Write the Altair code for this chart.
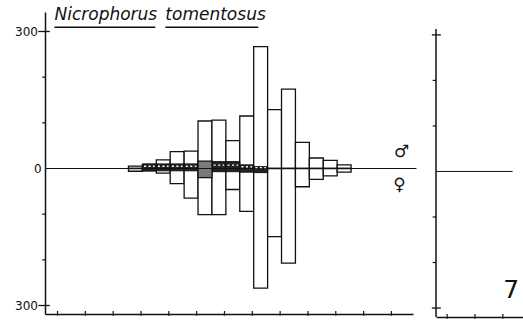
import altair as alt
import pandas as pd

# ---- data ----
bins = [6, 7, 8, 9, 10, 11, 12, 13, 14, 15, 16, 17, 18, 19, 20, 21]
male = [5, 9, 19, 37, 38, 104, 106, 61, 115, 267, 129, 174, 57, 23, 18, 8]
female = [6, 5, 10, 33, 65, 101, 101, 46, 94, 262, 149, 207, 40, 24, 16, 8]
hatch_bins = [7, 8, 9, 10, 11, 12, 13, 14, 15]
hatch_male = [10, 10, 10, 10, 16, 15, 15, 8, 4]
hatch_female = [5, 5, 5, 5, 20, 7, 7, 8, 9]
y_major = [-300, 300]
y_minor = [-200, -100, 100, 200]
x_ticks_left = [0.9, 2.9, 4.9, 6.9, 8.9, 10.9, 12.9, 14.9, 16.9, 18.9, 20.9, 22.9, 24.9]
x_ticks_right = [0.8, 2.8, 4.8]
title_words = ["Nicrophorus", "tomentosus"]
title_x = [0.68, 8.65]
title_end = [7.93, 15.33]
panel_number = "7"

FONT = "DejaVu Sans"
INK = "#111111"

# ---- left panel scales ----
XD = [0, 26.45]
YD = [-318.6, 342.7]
xs = alt.Scale(domain=XD, nice=False, zero=False)
ys = alt.Scale(domain=YD, nice=False, zero=False)

x_axis = alt.Axis(values=[0], labels=False, ticks=False, grid=False, title=None,
                  domain=True, domainColor=INK, domainWidth=1.5)
y_axis = alt.Axis(values=y_major, labelExpr="'300'", ticks=False, tickSize=0, grid=False,
                  title=None, domain=True, domainColor=INK, domainWidth=1.5,
                  labelFont=FONT, labelFontSize=12, labelColor=INK, labelPadding=7.5)


def X(f, axis=x_axis, scale=xs):
    return alt.X(f, type="quantitative", scale=scale, axis=axis)


def Y(f, axis=y_axis, scale=ys):
    return alt.Y(f, type="quantitative", scale=scale, axis=axis)


open_df = pd.DataFrame({"b": bins, "b2": [b + 1 for b in bins],
                        "m": male, "f": [-v for v in female]})
hatch_df = pd.DataFrame({"b": hatch_bins, "b2": [b + 1 for b in hatch_bins],
                         "m": hatch_male, "f": [-v for v in hatch_female]})
hatch_df["dash_y"] = hatch_df["m"] * 0.5
hatch_df["d1"] = hatch_df["b"] + 0.12
hatch_df["d2"] = hatch_df["b"] + 0.88
band_df = hatch_df[hatch_df["b"] != 11]
block_df = hatch_df[hatch_df["b"] == 11]

male_bars = alt.Chart(open_df).mark_rect(fill="white", stroke=INK, strokeWidth=1.3).encode(
    x=X("b"), x2="b2", y=Y("m"), y2=alt.datum(0))
female_bars = alt.Chart(open_df).mark_rect(fill="white", stroke=INK, strokeWidth=1.3).encode(
    x=X("b"), x2="b2", y=Y("f"), y2=alt.datum(0))

zero_df = pd.DataFrame({"x": [0], "x2": [26.7], "y": [0]})
zero_line = alt.Chart(zero_df).mark_rule(color=INK, strokeWidth=1).encode(
    x=X("x"), x2="x2", y=Y("y"))

band_up = alt.Chart(band_df).mark_rect(fill="#222222", stroke=INK, strokeWidth=1).encode(
    x=X("b"), x2="b2", y=Y("m"), y2=alt.datum(0))
band_down = alt.Chart(band_df).mark_rect(fill="#222222", stroke=INK, strokeWidth=1).encode(
    x=X("b"), x2="b2", y=Y("f"), y2=alt.datum(0))
band_dash = alt.Chart(band_df).mark_rule(color="white", strokeWidth=1.4, strokeDash=[2, 2.5]).encode(
    x=X("d1"), x2="d2", y=Y("dash_y"))
block_up = alt.Chart(block_df).mark_rect(fill="#7a7a7a", stroke=INK, strokeWidth=1.2).encode(
    x=X("b"), x2="b2", y=Y("m"), y2=alt.datum(0))
block_down = alt.Chart(block_df).mark_rect(fill="#7a7a7a", stroke=INK, strokeWidth=1.2).encode(
    x=X("b"), x2="b2", y=Y("f"), y2=alt.datum(0))

# axis ticks drawn as rules (they cross the axis lines)
maj_df = pd.DataFrame({"y": y_major, "x": [-0.48] * 2, "x2": [0.35] * 2})
maj_ticks = alt.Chart(maj_df).mark_rule(color=INK, strokeWidth=1.3).encode(
    x=X("x"), x2="x2", y=Y("y"))
min_df = pd.DataFrame({"y": y_minor, "x": [-0.2] * 4, "x2": [0] * 4})
min_ticks = alt.Chart(min_df).mark_rule(color=INK, strokeWidth=1.2).encode(
    x=X("x"), x2="x2", y=Y("y"))
xt_df = pd.DataFrame({"x": x_ticks_left, "y": [YD[0] - 3.7] * len(x_ticks_left),
                      "y2": [YD[0] + 6.6] * len(x_ticks_left)})
x_ticks = alt.Chart(xt_df).mark_rule(color=INK, strokeWidth=1.2).encode(
    x=X("x"), y=Y("y"), y2="y2")

zero_lab = alt.Chart(pd.DataFrame({"x": [-0.25], "y": [0], "t": ["0"]})).mark_text(
    align="right", baseline="middle", font=FONT, fontSize=12, color=INK).encode(
    x=X("x"), y=Y("y"), text="t:N")

title_df = pd.DataFrame({"t": title_words, "x": title_x, "x2": title_end,
                         "y": [325.2, 325.2], "u": [309.2, 309.2]})
title_text = alt.Chart(title_df).mark_text(
    align="left", baseline="alphabetic", font=FONT, fontSize=17, fontStyle="italic",
    color=INK).encode(x=X("x"), y=Y("y"), text="t:N")
title_under = alt.Chart(title_df).mark_rule(color=INK, strokeWidth=1.5).encode(
    x=X("x"), x2="x2", y=Y("u"))

sex_df = pd.DataFrame({"t": ["♂", "♀"], "x": [25.63, 25.48], "y": [37.2, -36.1]})
sex_text = alt.Chart(sex_df).mark_text(
    align="center", baseline="middle", font=FONT, fontSize=17, fontWeight="bold",
    color=INK).encode(x=X("x"), y=Y("y"), text="t:N")

left = alt.layer(
    male_bars, female_bars, zero_line, band_up, band_down, band_dash, block_up, block_down,
    maj_ticks, min_ticks, x_ticks, zero_lab, title_text, title_under, sex_text
).properties(width=368, height=302)

# ---- right panel (cut off at the page edge) ----
XD2 = [0, 6.245]
YD2 = [-319.7, 350.3]
xs2 = alt.Scale(domain=XD2, nice=False, zero=False)
ys2 = alt.Scale(domain=YD2, nice=False, zero=False)


def X2(f):
    return alt.X(f, type="quantitative", scale=xs2, axis=x_axis)


def Y2(f):
    return alt.Y(f, type="quantitative", scale=ys2, axis=None)


r_axis_line = alt.Chart(pd.DataFrame({"x": [0], "y": [YD2[0]], "y2": [313.1]})).mark_rule(
    color=INK, strokeWidth=1.5).encode(x=X2("x"), y=Y2("y"), y2="y2")
r_maj = alt.Chart(pd.DataFrame({"y": y_major, "x": [-0.3] * 2, "x2": [0.35] * 2})).mark_rule(
    color=INK, strokeWidth=1.3).encode(x=X2("x"), x2="x2", y=Y2("y"))
r_min = alt.Chart(pd.DataFrame({"y": y_minor, "x": [-0.24] * 4, "x2": [0] * 4})).mark_rule(
    color=INK, strokeWidth=1.2).encode(x=X2("x"), x2="x2", y=Y2("y"))
r_zero = alt.Chart(pd.DataFrame({"x": [0], "x2": [5.5], "y": [0]})).mark_rule(
    color=INK, strokeWidth=1).encode(x=X2("x"), x2="x2", y=Y2("y"))
r_xt = alt.Chart(pd.DataFrame({"x": x_ticks_right, "y": [YD2[0] - 3.7] * 3,
                               "y2": [YD2[0] + 6.6] * 3})).mark_rule(
    color=INK, strokeWidth=1.2).encode(x=X2("x"), y=Y2("y"), y2="y2")
r_num = alt.Chart(pd.DataFrame({"x": [5.4], "y": [-278.1], "t": [panel_number]})).mark_text(
    align="center", baseline="alphabetic", font=FONT, fontSize=25, color=INK).encode(
    x=X2("x"), y=Y2("y"), text="t:N")

right = alt.layer(r_axis_line, r_maj, r_min, r_zero, r_xt, r_num).properties(width=87, height=305)

chart = alt.hconcat(left, right, spacing=23, bounds="flush").properties(
    padding={"left": 14, "right": 0, "top": 5, "bottom": 2},
    background="white",
).configure_view(stroke=None)

chart.save("out.html", embed_options={"renderer": "svg", "actions": False})
